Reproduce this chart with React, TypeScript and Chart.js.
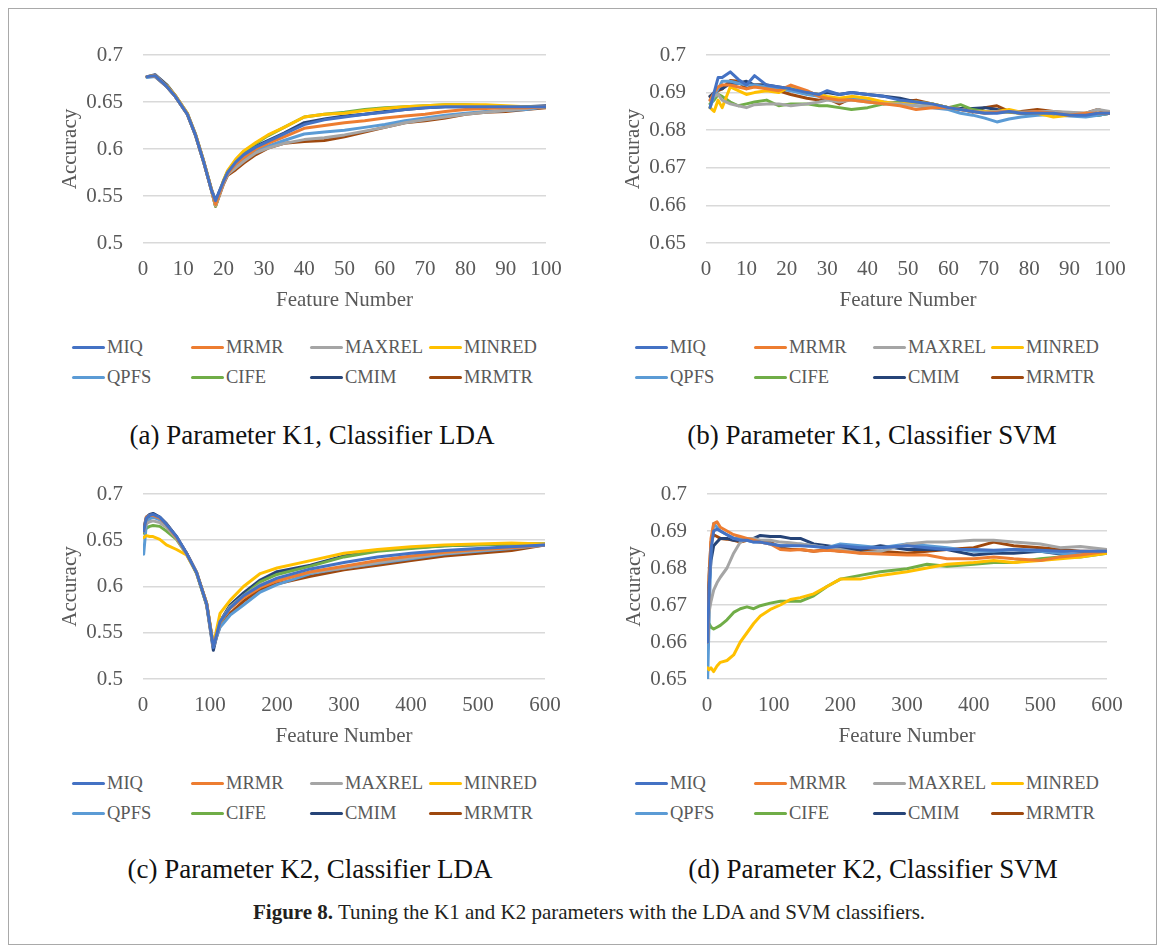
import React, { useEffect, useRef } from "react";
import { Chart, registerables } from "chart.js";

Chart.register(...registerables);

// ---------- series meta ----------
const SERIES_NAMES = ["MIQ", "MRMR", "MAXREL", "MINRED", "QPFS", "CIFE", "CMIM", "MRMTR"];
const SERIES_COLORS = ["#4472C4", "#ED7D31", "#A5A5A5", "#FFC000", "#5B9BD5", "#70AD47", "#264478", "#9E480E"];

// ---------- axis ticks ----------
const X_TICKS_K1 = [0, 10, 20, 30, 40, 50, 60, 70, 80, 90, 100];
const X_TICKS_K2 = [0, 100, 200, 300, 400, 500, 600];
const Y_TICKS_LDA = [0.5, 0.55, 0.6, 0.65, 0.7];
const Y_TICKS_SVM = [0.65, 0.66, 0.67, 0.68, 0.69, 0.7];

// ---------- (a) K1, LDA ----------
const XA = [1, 3, 6, 8, 11, 13, 15, 17, 18, 20, 21, 23, 25, 28, 31, 35, 40, 45, 50, 55, 60, 65, 70, 75, 80, 85, 90, 95, 100];
const A_MIQ = [0.677, 0.678, 0.666, 0.656, 0.637, 0.615, 0.587, 0.556, 0.545, 0.566, 0.575, 0.586, 0.594, 0.602, 0.608, 0.616, 0.626, 0.631, 0.634, 0.637, 0.639, 0.642, 0.644, 0.645, 0.645, 0.645, 0.645, 0.645, 0.645];
const A_MRMR = [0.677, 0.678, 0.666, 0.656, 0.637, 0.615, 0.587, 0.556, 0.541, 0.565, 0.574, 0.584, 0.591, 0.600, 0.606, 0.613, 0.622, 0.625, 0.628, 0.630, 0.633, 0.635, 0.637, 0.640, 0.642, 0.643, 0.644, 0.644, 0.645];
const A_MAXREL = [0.677, 0.678, 0.666, 0.656, 0.637, 0.615, 0.587, 0.556, 0.540, 0.564, 0.573, 0.580, 0.587, 0.596, 0.601, 0.606, 0.610, 0.612, 0.615, 0.619, 0.623, 0.628, 0.631, 0.634, 0.637, 0.639, 0.641, 0.643, 0.645];
const A_MINRED = [0.677, 0.678, 0.667, 0.657, 0.638, 0.616, 0.588, 0.557, 0.540, 0.567, 0.577, 0.589, 0.598, 0.607, 0.615, 0.623, 0.634, 0.637, 0.638, 0.641, 0.643, 0.645, 0.646, 0.647, 0.647, 0.647, 0.646, 0.645, 0.645];
const A_QPFS = [0.676, 0.677, 0.666, 0.656, 0.637, 0.615, 0.587, 0.556, 0.541, 0.564, 0.573, 0.582, 0.589, 0.598, 0.603, 0.609, 0.616, 0.618, 0.620, 0.623, 0.626, 0.630, 0.633, 0.636, 0.638, 0.640, 0.641, 0.642, 0.645];
const A_CIFE = [0.677, 0.678, 0.666, 0.656, 0.637, 0.615, 0.587, 0.556, 0.539, 0.566, 0.576, 0.588, 0.597, 0.606, 0.614, 0.623, 0.634, 0.637, 0.639, 0.642, 0.644, 0.645, 0.646, 0.647, 0.647, 0.646, 0.645, 0.645, 0.645];
const A_CMIM = [0.677, 0.679, 0.668, 0.657, 0.638, 0.616, 0.588, 0.557, 0.545, 0.566, 0.576, 0.586, 0.595, 0.603, 0.609, 0.617, 0.628, 0.632, 0.635, 0.637, 0.640, 0.642, 0.644, 0.645, 0.645, 0.645, 0.645, 0.645, 0.646];
const A_MRMTR = [0.677, 0.677, 0.666, 0.656, 0.637, 0.615, 0.587, 0.556, 0.539, 0.563, 0.572, 0.578, 0.585, 0.594, 0.601, 0.606, 0.608, 0.609, 0.613, 0.618, 0.623, 0.628, 0.630, 0.633, 0.637, 0.639, 0.640, 0.642, 0.644];

// ---------- (b) K1, SVM ----------
const XB = [1, 2, 3, 4, 6, 8, 10, 12, 15, 18, 21, 25, 28, 30, 33, 36, 40, 44, 48, 52, 56, 60, 63, 66, 69, 72, 75, 78, 82, 86, 90, 94, 97, 100];
const B_MIQ = [0.686, 0.690, 0.694, 0.694, 0.6955, 0.6935, 0.692, 0.6945, 0.692, 0.6915, 0.691, 0.690, 0.6895, 0.6905, 0.6895, 0.690, 0.6895, 0.689, 0.688, 0.6875, 0.687, 0.686, 0.6855, 0.685, 0.6845, 0.6845, 0.685, 0.6845, 0.6845, 0.6845, 0.684, 0.684, 0.6845, 0.6845];
const B_MRMR = [0.688, 0.690, 0.6915, 0.692, 0.692, 0.6915, 0.691, 0.6915, 0.691, 0.6905, 0.692, 0.6905, 0.689, 0.6885, 0.688, 0.688, 0.6875, 0.687, 0.6865, 0.6855, 0.686, 0.686, 0.6855, 0.685, 0.6845, 0.6848, 0.685, 0.6845, 0.685, 0.6845, 0.684, 0.6845, 0.6845, 0.6845];
const B_MAXREL = [0.688, 0.689, 0.6895, 0.688, 0.687, 0.6865, 0.686, 0.6868, 0.687, 0.687, 0.6865, 0.687, 0.6875, 0.688, 0.6875, 0.688, 0.6875, 0.687, 0.687, 0.6865, 0.6865, 0.686, 0.6855, 0.685, 0.6848, 0.685, 0.685, 0.6848, 0.685, 0.685, 0.6848, 0.6845, 0.6855, 0.685];
const B_MINRED = [0.686, 0.685, 0.688, 0.686, 0.6915, 0.6905, 0.6895, 0.690, 0.6905, 0.690, 0.6918, 0.690, 0.6895, 0.689, 0.6885, 0.689, 0.6885, 0.6875, 0.687, 0.6875, 0.687, 0.686, 0.6855, 0.685, 0.685, 0.685, 0.6855, 0.6848, 0.6845, 0.6835, 0.684, 0.6845, 0.6845, 0.6845];
const B_QPFS = [0.686, 0.689, 0.691, 0.693, 0.693, 0.6925, 0.692, 0.692, 0.6915, 0.691, 0.6905, 0.6895, 0.689, 0.6885, 0.688, 0.6885, 0.688, 0.6875, 0.687, 0.6865, 0.686, 0.6855, 0.6845, 0.684, 0.6832, 0.6822, 0.683, 0.6835, 0.684, 0.6842, 0.6838, 0.6835, 0.684, 0.6845];
const B_CIFE = [0.687, 0.688, 0.6895, 0.689, 0.6875, 0.6865, 0.687, 0.6875, 0.688, 0.6865, 0.687, 0.687, 0.6865, 0.6865, 0.686, 0.6855, 0.686, 0.687, 0.6875, 0.6875, 0.687, 0.686, 0.6868, 0.6855, 0.685, 0.685, 0.6848, 0.6845, 0.6845, 0.6845, 0.6842, 0.6838, 0.684, 0.6845];
const B_CMIM = [0.689, 0.690, 0.691, 0.691, 0.6925, 0.6925, 0.693, 0.692, 0.692, 0.6915, 0.691, 0.690, 0.6895, 0.690, 0.6895, 0.690, 0.6895, 0.689, 0.6885, 0.6875, 0.6868, 0.686, 0.6858, 0.6858, 0.686, 0.6855, 0.685, 0.6845, 0.6845, 0.6845, 0.684, 0.684, 0.684, 0.6845];
const B_MRMTR = [0.689, 0.6895, 0.6905, 0.691, 0.6932, 0.693, 0.691, 0.692, 0.692, 0.6905, 0.6895, 0.6885, 0.688, 0.6885, 0.687, 0.6885, 0.688, 0.687, 0.6875, 0.688, 0.687, 0.686, 0.6858, 0.6848, 0.686, 0.6865, 0.685, 0.685, 0.6855, 0.685, 0.6845, 0.6845, 0.6855, 0.6845];

// ---------- (c) K2, LDA ----------
const XC = [1, 5, 10, 15, 25, 35, 50, 65, 80, 95, 105, 115, 130, 150, 175, 200, 250, 300, 350, 400, 450, 500, 550, 600];
const C_MIQ = [0.660, 0.674, 0.677, 0.678, 0.675, 0.667, 0.654, 0.636, 0.615, 0.581, 0.534, 0.562, 0.577, 0.590, 0.601, 0.609, 0.619, 0.626, 0.632, 0.636, 0.639, 0.641, 0.643, 0.645];
const C_MRMR = [0.660, 0.675, 0.677, 0.677, 0.674, 0.667, 0.653, 0.636, 0.615, 0.581, 0.535, 0.561, 0.576, 0.588, 0.599, 0.606, 0.616, 0.622, 0.628, 0.633, 0.637, 0.640, 0.642, 0.645];
const C_MAXREL = [0.660, 0.668, 0.670, 0.671, 0.669, 0.664, 0.652, 0.635, 0.615, 0.581, 0.535, 0.562, 0.578, 0.590, 0.602, 0.608, 0.615, 0.620, 0.626, 0.631, 0.636, 0.639, 0.642, 0.645];
const C_MINRED = [0.653, 0.655, 0.654, 0.654, 0.651, 0.645, 0.640, 0.634, 0.615, 0.582, 0.537, 0.571, 0.585, 0.600, 0.614, 0.620, 0.628, 0.636, 0.640, 0.643, 0.645, 0.646, 0.647, 0.646];
const C_QPFS = [0.635, 0.668, 0.673, 0.675, 0.672, 0.666, 0.653, 0.636, 0.615, 0.581, 0.535, 0.556, 0.569, 0.580, 0.594, 0.602, 0.614, 0.620, 0.625, 0.630, 0.635, 0.638, 0.641, 0.645];
const C_CIFE = [0.658, 0.663, 0.665, 0.666, 0.665, 0.660, 0.651, 0.635, 0.614, 0.580, 0.535, 0.560, 0.578, 0.590, 0.605, 0.613, 0.622, 0.632, 0.638, 0.641, 0.644, 0.645, 0.646, 0.646];
const C_CMIM = [0.662, 0.675, 0.678, 0.679, 0.675, 0.668, 0.654, 0.636, 0.615, 0.580, 0.531, 0.562, 0.580, 0.593, 0.607, 0.616, 0.623, 0.633, 0.639, 0.642, 0.644, 0.645, 0.646, 0.646];
const C_MRMTR = [0.658, 0.673, 0.676, 0.677, 0.674, 0.667, 0.653, 0.636, 0.615, 0.582, 0.536, 0.557, 0.571, 0.584, 0.597, 0.603, 0.611, 0.618, 0.623, 0.628, 0.633, 0.636, 0.639, 0.645];

// ---------- (d) K2, SVM ----------
const XD = [1, 3, 6, 10, 15, 20, 30, 40, 50, 60, 70, 80, 95, 110, 125, 140, 160, 180, 200, 230, 260, 300, 330, 360, 400, 430, 460, 500, 530, 560, 600];
const D_MIQ = [0.660, 0.674, 0.685, 0.690, 0.6905, 0.690, 0.689, 0.688, 0.6875, 0.6875, 0.687, 0.687, 0.6865, 0.686, 0.686, 0.686, 0.6858, 0.6855, 0.686, 0.6855, 0.6855, 0.686, 0.6855, 0.685, 0.685, 0.6848, 0.685, 0.6848, 0.6845, 0.6845, 0.6845];
const D_MRMR = [0.660, 0.675, 0.688, 0.692, 0.6925, 0.691, 0.690, 0.689, 0.6885, 0.688, 0.6875, 0.687, 0.6865, 0.685, 0.6848, 0.685, 0.6845, 0.6848, 0.6845, 0.684, 0.6838, 0.6835, 0.6835, 0.6825, 0.6825, 0.683, 0.6825, 0.682, 0.683, 0.6835, 0.6845];
const D_MAXREL = [0.660, 0.668, 0.671, 0.674, 0.676, 0.6775, 0.680, 0.684, 0.687, 0.688, 0.688, 0.6875, 0.6875, 0.687, 0.6868, 0.6865, 0.686, 0.6855, 0.685, 0.684, 0.6845, 0.6865, 0.687, 0.687, 0.6875, 0.6875, 0.687, 0.6865, 0.6855, 0.6858, 0.685];
const D_MINRED = [0.653, 0.6525, 0.653, 0.652, 0.6535, 0.6545, 0.655, 0.6565, 0.660, 0.6625, 0.665, 0.667, 0.6688, 0.670, 0.6715, 0.672, 0.673, 0.675, 0.677, 0.677, 0.678, 0.679, 0.680, 0.681, 0.6815, 0.682, 0.6815, 0.682, 0.6825, 0.683, 0.684];
const D_QPFS = [0.650, 0.665, 0.685, 0.692, 0.691, 0.690, 0.689, 0.688, 0.688, 0.6875, 0.687, 0.687, 0.6865, 0.686, 0.686, 0.6865, 0.686, 0.6855, 0.6865, 0.686, 0.6855, 0.6865, 0.686, 0.6855, 0.6845, 0.6845, 0.685, 0.6845, 0.684, 0.6835, 0.684];
const D_CIFE = [0.661, 0.665, 0.664, 0.6635, 0.664, 0.6645, 0.666, 0.668, 0.669, 0.6695, 0.669, 0.6698, 0.6705, 0.671, 0.671, 0.671, 0.6725, 0.675, 0.677, 0.678, 0.679, 0.6798, 0.681, 0.6805, 0.681, 0.6815, 0.6815, 0.6825, 0.683, 0.683, 0.684];
const D_CMIM = [0.660, 0.675, 0.682, 0.686, 0.687, 0.688, 0.688, 0.6875, 0.6875, 0.688, 0.688, 0.6888, 0.6885, 0.6885, 0.688, 0.688, 0.6865, 0.686, 0.6855, 0.685, 0.686, 0.685, 0.685, 0.685, 0.6835, 0.684, 0.684, 0.6845, 0.6838, 0.6835, 0.684];
const D_MRMTR = [0.658, 0.678, 0.687, 0.689, 0.6885, 0.688, 0.6878, 0.6875, 0.687, 0.6875, 0.6872, 0.687, 0.687, 0.6855, 0.685, 0.685, 0.6845, 0.685, 0.6845, 0.6848, 0.6845, 0.684, 0.6845, 0.685, 0.6855, 0.687, 0.686, 0.6855, 0.685, 0.6845, 0.6845];

// ---------- texts ----------
const SUBCAPTIONS = [
  "(a) Parameter K1, Classifier LDA",
  "(b) Parameter K1, Classifier SVM",
  "(c) Parameter K2, Classifier LDA",
  "(d) Parameter K2, Classifier SVM",
];
const X_TITLE = "Feature Number";
const Y_TITLE = "Accuracy";
const CAPTION_BOLD = "Figure 8.";
const CAPTION_TEXT = " Tuning the K1 and K2 parameters with the LDA and SVM classifiers.";

// ---------- layout ----------
const FONT = "'Liberation Serif', 'DejaVu Serif', 'Times New Roman', serif";
const TICK_SIZE = 21;
const LH = TICK_SIZE * 1.2;
const TICK_COLOR = "#595959";

type Box = { left: number; top: number; width: number; height: number };
type Plot = { left: number; right: number; top: number; bottom: number };

const PANELS = [
  {
    canvas: { left: 20, top: 20, width: 560, height: 300 },
    plot: { left: 143, right: 546, top: 55, bottom: 243 },
    xs: XA, ys: [A_MIQ, A_MRMR, A_MAXREL, A_MINRED, A_QPFS, A_CIFE, A_CMIM, A_MRMTR],
    xTicks: X_TICKS_K1, yTicks: Y_TICKS_LDA,
    legendX: [72, 191, 310, 429], legendY: [347, 377], cap: { x: 312, y: 435 },
  },
  {
    canvas: { left: 585, top: 20, width: 560, height: 300 },
    plot: { left: 706, right: 1110, top: 55, bottom: 243 },
    xs: XB, ys: [B_MIQ, B_MRMR, B_MAXREL, B_MINRED, B_QPFS, B_CIFE, B_CMIM, B_MRMTR],
    xTicks: X_TICKS_K1, yTicks: Y_TICKS_SVM,
    legendX: [635, 754, 873, 991], legendY: [347, 377], cap: { x: 872, y: 435 },
  },
  {
    canvas: { left: 20, top: 460, width: 560, height: 300 },
    plot: { left: 143, right: 545, top: 494, bottom: 679 },
    xs: XC, ys: [C_MIQ, C_MRMR, C_MAXREL, C_MINRED, C_QPFS, C_CIFE, C_CMIM, C_MRMTR],
    xTicks: X_TICKS_K2, yTicks: Y_TICKS_LDA,
    legendX: [72, 191, 310, 429], legendY: [783, 813], cap: { x: 310, y: 869 },
  },
  {
    canvas: { left: 585, top: 460, width: 560, height: 300 },
    plot: { left: 707, right: 1107, top: 494, bottom: 679 },
    xs: XD, ys: [D_MIQ, D_MRMR, D_MAXREL, D_MINRED, D_QPFS, D_CIFE, D_CMIM, D_MRMTR],
    xTicks: X_TICKS_K2, yTicks: Y_TICKS_SVM,
    legendX: [635, 754, 873, 991], legendY: [783, 813], cap: { x: 873, y: 869 },
  },
];

const fmt = (v: number) => String(parseFloat(Number(v).toFixed(3)));

function ChartPanel(props: {
  canvas: Box; plot: Plot; xs: number[]; ys: number[][]; xTicks: number[]; yTicks: number[];
}) {
  const ref = useRef<HTMLCanvasElement | null>(null);
  const { canvas, plot, xs, ys, xTicks, yTicks } = props;

  useEffect(() => {
    if (!ref.current) return;
    const padTop = plot.top - canvas.top;
    const padRight = canvas.left + canvas.width - plot.right;
    const yWidth = plot.left - canvas.left;
    const canvasBottom = canvas.top + canvas.height;
    const xHeight = canvasBottom - plot.bottom;
    const xTickPad = 26 - LH / 2;
    const xTitlePadBottom = canvasBottom - (plot.bottom + 57) - LH / 2;
    const yTitlePadTop = plot.left - 73 - canvas.left - LH / 2;

    const datasets = ys.map((arr, i) => ({
      label: SERIES_NAMES[i],
      data: arr.map((y, j) => ({ x: xs[j], y })),
      borderColor: SERIES_COLORS[i],
      backgroundColor: SERIES_COLORS[i],
      borderWidth: 3,
      pointRadius: 0,
      tension: 0,
      fill: false,
      borderJoinStyle: "round" as const,
      borderCapStyle: "round" as const,
    }));

    const chart = new Chart(ref.current, {
      type: "line",
      data: { datasets },
      options: {
        animation: false,
        responsive: false,
        maintainAspectRatio: false,
        events: [],
        layout: { padding: { top: padTop, right: padRight, left: 0, bottom: 0 } },
        plugins: { legend: { display: false }, tooltip: { enabled: false }, title: { display: false } },
        scales: {
          x: {
            type: "linear",
            min: xTicks[0],
            max: xTicks[xTicks.length - 1],
            afterBuildTicks: (s: any) => { s.ticks = xTicks.map((v) => ({ value: v })); },
            afterFit: (s: any) => { s.height = xHeight; },
            grid: { display: false, drawTicks: false },
            border: { display: false },
            ticks: {
              padding: xTickPad,
              color: TICK_COLOR,
              font: { family: FONT, size: TICK_SIZE, lineHeight: 1.2 },
              maxRotation: 0,
              autoSkip: false,
              callback: (v: any) => fmt(v),
            },
            title: {
              display: true,
              text: X_TITLE,
              color: TICK_COLOR,
              font: { family: FONT, size: TICK_SIZE, lineHeight: 1.2 },
              padding: { top: 0, bottom: xTitlePadBottom },
            },
          },
          y: {
            type: "linear",
            min: yTicks[0],
            max: yTicks[yTicks.length - 1],
            afterBuildTicks: (s: any) => { s.ticks = yTicks.map((v) => ({ value: v })); },
            afterFit: (s: any) => { s.width = yWidth; },
            grid: { color: "#d9d9d9", lineWidth: 1.5, drawTicks: false },
            border: { display: false },
            ticks: {
              padding: 20,
              color: TICK_COLOR,
              font: { family: FONT, size: TICK_SIZE, lineHeight: 1.2 },
              autoSkip: false,
              callback: (v: any) => fmt(v),
            },
            title: {
              display: true,
              text: Y_TITLE,
              color: TICK_COLOR,
              font: { family: FONT, size: TICK_SIZE, lineHeight: 1.2 },
              padding: { top: yTitlePadTop, bottom: 0 },
            },
          },
        },
      } as any,
    });
    return () => chart.destroy();
  }, []);

  return (
    <canvas
      ref={ref}
      width={canvas.width}
      height={canvas.height}
      style={{ position: "absolute", left: canvas.left, top: canvas.top, width: canvas.width, height: canvas.height }}
    />
  );
}

function Legend(props: { xs: number[]; ys: number[] }) {
  const items: React.ReactNode[] = [];
  SERIES_NAMES.forEach((name, i) => {
    const col = i % 4;
    const row = Math.floor(i / 4);
    items.push(
      <div
        key={name}
        style={{
          position: "absolute",
          left: props.xs[col],
          top: props.ys[row] - 12,
          height: 24,
          display: "flex",
          alignItems: "center",
          whiteSpace: "nowrap",
        }}
      >
        <div style={{ width: 33, height: 3, background: SERIES_COLORS[i], borderRadius: 1.5 }} />
        <span style={{ marginLeft: 2, fontFamily: FONT, fontSize: 18.5, color: TICK_COLOR, lineHeight: "24px" }}>{name}</span>
      </div>
    );
  });
  return <>{items}</>;
}

export default function App() {
  return (
    <div style={{ position: "absolute", left: 0, top: 0, width: 1168, height: 952, background: "#fff", overflow: "hidden" }}>
      <div
        style={{
          position: "absolute",
          left: 8,
          top: 8,
          width: 1149,
          height: 937,
          border: "1px solid #a9a9a9",
          boxSizing: "border-box",
        }}
      />
      {PANELS.map((p, i) => (
        <React.Fragment key={i}>
          <ChartPanel canvas={p.canvas} plot={p.plot} xs={p.xs} ys={p.ys} xTicks={p.xTicks} yTicks={p.yTicks} />
          <Legend xs={p.legendX} ys={p.legendY} />
          <div
            style={{
              position: "absolute",
              left: p.cap.x - 280,
              width: 560,
              top: p.cap.y - 16,
              height: 32,
              lineHeight: "32px",
              textAlign: "center",
              fontFamily: FONT,
              fontSize: 27,
              color: "#111",
              whiteSpace: "nowrap",
            }}
          >
            {SUBCAPTIONS[i]}
          </div>
        </React.Fragment>
      ))}
      <div
        style={{
          position: "absolute",
          left: 253,
          top: 898,
          height: 28,
          lineHeight: "28px",
          fontFamily: FONT,
          fontSize: 21,
          color: "#231f20",
          whiteSpace: "nowrap",
        }}
      >
        <b>{CAPTION_BOLD}</b>
        {CAPTION_TEXT}
      </div>
    </div>
  );
}
